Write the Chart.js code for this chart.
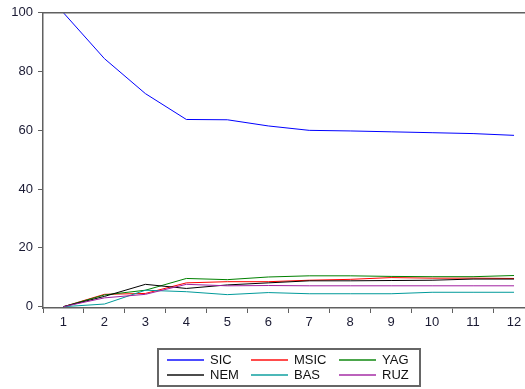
<!DOCTYPE html>
<html>
<head>
<meta charset="utf-8">
<script src="https://cdn.jsdelivr.net/npm/chart.js@4.4.0/dist/chart.umd.min.js"></script>
<style>
  html, body { margin: 0; padding: 0; background: #fff; }
  body { width: 525px; height: 389px; overflow: hidden; position: relative; }
  #wrap { position: absolute; left: 0; top: 0; }
  #legend {
    position: absolute; left: 157px; top: 348px; width: 260px; height: 35px;
    border: 2px solid #666666; box-sizing: content-box;
    font: 13px "Liberation Sans", Arial, sans-serif; color: #111;
  }
  .item { position: absolute; height: 15px; line-height: 15px; }
  .sw { position: absolute; left: 0; top: 7px; width: 37px; height: 2px; opacity: 0.7; }
  .tx { position: absolute; left: 43px; top: 0; white-space: nowrap; }
</style>
</head>
<body>
<div id="wrap"><canvas id="chart" width="536" height="389"></canvas></div>
<div id="legend"></div>
<script>
'use strict';

// periods on the x axis
var periods = ['1', '2', '3', '4', '5', '6', '7', '8', '9', '10', '11', '12'];

// series values
var sic  = [100, 84.4, 72.5, 63.7, 63.6, 61.5, 60.0, 59.8, 59.5, 59.2, 58.9, 58.3];
var msic = [0, 4.2, 4.5, 8.1, 8.5, 8.5, 9.0, 9.3, 9.9, 9.7, 9.7, 9.6];
var yag  = [0, 4.0, 5.6, 9.6, 9.2, 10.1, 10.5, 10.5, 10.3, 10.2, 10.2, 10.6];
var nem  = [0, 3.5, 7.6, 6.2, 7.4, 8.1, 8.8, 8.8, 8.9, 9.0, 9.4, 9.4];
var bas  = [0, 0.9, 5.6, 5.1, 4.1, 4.8, 4.4, 4.4, 4.4, 4.9, 4.9, 4.9];
var ruz  = [0, 3.0, 4.2, 7.6, 7.1, 7.2, 7.1, 7.1, 7.1, 7.1, 7.1, 7.1];

var yTicks = [0, 20, 40, 60, 80, 100];

var seriesNames = ['SIC', 'MSIC', 'YAG', 'NEM', 'BAS', 'RUZ'];
var seriesData = [sic, msic, yag, nem, bas, ruz];
var seriesColors = ['#0000ff', '#ff0000', '#008000', '#000000', '#009a9a', '#a020a0'];

var tickFont = { family: '"Liberation Sans", Arial, sans-serif', size: 13 };
var tickColor = '#1a1a33';
var axisColor = '#606060';

// draws the top frame line of the plot area
var frameTop = {
  id: 'frameTop',
  afterDraw: function (chart) {
    var ctx = chart.ctx;
    var a = chart.chartArea;
    ctx.save();
    ctx.strokeStyle = axisColor;
    ctx.lineWidth = 1.5;
    ctx.beginPath();
    ctx.moveTo(a.left, a.top);
    ctx.lineTo(a.right, a.top);
    ctx.stroke();
    ctx.restore();
  }
};

var datasets = seriesNames.map(function (name, i) {
  return {
    label: name,
    data: seriesData[i],
    borderColor: seriesColors[i],
    backgroundColor: seriesColors[i],
    borderWidth: 1,
    pointRadius: 0,
    fill: false,
    tension: 0
  };
});
// draw SIC last so it stays on top like the original
datasets.reverse();

var c = document.getElementById('chart');
new Chart(c.getContext('2d'), {
  type: 'line',
  data: { labels: periods, datasets: datasets },
  options: {
    responsive: false,
    animation: false,
    devicePixelRatio: 1,
    layout: { padding: { left: 0, right: 1.5, top: 12, bottom: 51 } },
    plugins: { legend: { display: false }, tooltip: { enabled: false } },
    scales: {
      x: {
        offset: true,
        afterFit: function (scale) { scale.height = 30; },
        grid: { display: true, drawOnChartArea: false, offset: true, tickLength: 5, color: axisColor, lineWidth: 1 },
        border: { display: true, color: axisColor, width: 1.5 },
        ticks: { font: tickFont, color: tickColor, padding: 2, maxRotation: 0, autoSkip: false }
      },
      y: {
        min: -0.45,
        max: 100,
        afterFit: function (scale) { scale.width = 43; },
        afterBuildTicks: function (scale) {
          scale.ticks = yTicks.map(function (v) { return { value: v }; });
        },
        grid: { display: true, drawOnChartArea: false, tickLength: 5, color: axisColor, lineWidth: 1 },
        border: { display: true, color: axisColor, width: 1.5 },
        ticks: { font: tickFont, color: tickColor, padding: 5 }
      }
    }
  },
  plugins: [frameTop]
});

// legend box below the chart, two rows of three
var legend = document.getElementById('legend');
var colX = [8, 92, 180];
var rowY = [2, 17];
seriesNames.forEach(function (name, i) {
  var item = document.createElement('div');
  item.className = 'item';
  item.style.left = colX[i % 3] + 'px';
  item.style.top = rowY[Math.floor(i / 3)] + 'px';
  var sw = document.createElement('span');
  sw.className = 'sw';
  sw.style.backgroundColor = seriesColors[i];
  var tx = document.createElement('span');
  tx.className = 'tx';
  tx.textContent = name;
  item.appendChild(sw);
  item.appendChild(tx);
  legend.appendChild(item);
});
</script>
</body>
</html>
